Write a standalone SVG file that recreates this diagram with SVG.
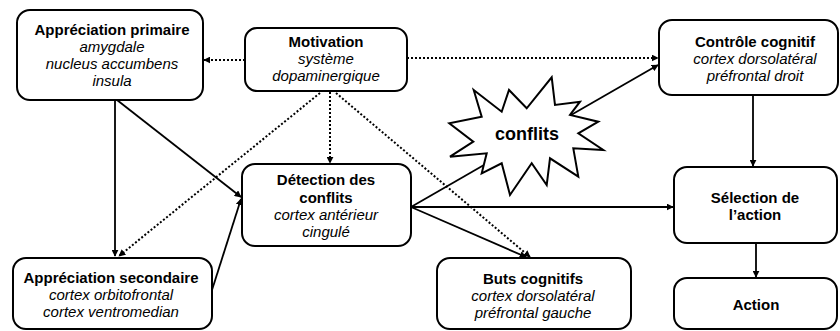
<svg xmlns="http://www.w3.org/2000/svg" width="840" height="331" viewBox="0 0 840 331">
<defs>
<marker id="ah" viewBox="0 0 10 10" refX="9" refY="5" markerWidth="7" markerHeight="7" markerUnits="userSpaceOnUse" orient="auto">
<path d="M0,0 L10,5 L0,10 z" fill="#000"/>
</marker>
<style>
.box{fill:#fff;stroke:#000;stroke-width:2}
.t{font-family:"Liberation Sans",Arial,sans-serif;font-size:15px;text-anchor:middle;fill:#000}
.b{font-weight:bold}
.i{font-style:italic}
.sol{fill:none;stroke:#000;stroke-width:1.8;marker-end:url(#ah)}
.dot{fill:none;stroke:#000;stroke-width:2;stroke-dasharray:2 2;marker-end:url(#ah)}
</style>
</defs>
<rect width="840" height="331" fill="#fff"/>
<g id="connectors">
<line class="dot" x1="245" y1="60" x2="204" y2="60"/>
<line class="dot" x1="407" y1="58" x2="658" y2="58"/>
<line class="dot" x1="330" y1="92" x2="330" y2="163"/>
<line class="dot" x1="320" y1="93" x2="119" y2="256"/>
<line class="dot" x1="336" y1="93" x2="530" y2="257"/>
<line class="sol" x1="115" y1="100" x2="115" y2="256"/>
<line class="sol" x1="117" y1="100" x2="241" y2="197"/>
<line class="sol" x1="212" y1="290" x2="241" y2="199"/>
<line class="sol" x1="411" y1="207" x2="658" y2="65"/>
<line class="sol" x1="411" y1="207" x2="673" y2="207"/>
<line class="sol" x1="411" y1="207" x2="526" y2="257"/>
<line class="sol" x1="753" y1="95" x2="753" y2="166"/>
<line class="sol" x1="756" y1="243" x2="756" y2="277"/>
</g>
<g id="conflits">
<polygon points="473.7,90 501.7,111.7 509,90 526.7,108.3 551.7,77.3 555,105 580,101.7 570,115 598.3,121.7 578.3,133.3 603.3,150 573.3,148.3 578.3,176.7 550,158.3 546.7,185 531.7,163.3 510,195 501.7,163.3 481.7,173.3 486.7,153.3 450,156.7 473.3,141.7 449.3,123.3 481.7,116.7" fill="#fff" stroke="#000" stroke-width="2" stroke-linejoin="miter"/>
<text class="t b" x="527" y="140" style="font-size:18px">conflits</text>
</g>
<g id="appreciation-primaire">
<rect class="box" x="17" y="10" width="186" height="90" rx="13"/>
<text class="t b" x="112" y="35">Appréciation primaire</text>
<text class="t i" x="112" y="52">amygdale</text>
<text class="t i" x="112" y="69">nucleus accumbens</text>
<text class="t i" x="112" y="86">insula</text>
</g>
<g id="motivation">
<rect class="box" x="245" y="28" width="162" height="63" rx="12"/>
<text class="t b" x="326" y="47">Motivation</text>
<text class="t i" x="326" y="64">système</text>
<text class="t i" x="326" y="81">dopaminergique</text>
</g>
<g id="controle-cognitif">
<rect class="box" x="659" y="20" width="179" height="75" rx="13"/>
<text class="t b" x="755" y="47">Contrôle cognitif</text>
<text class="t i" x="755" y="64">cortex dorsolatéral</text>
<text class="t i" x="755" y="81">préfrontal droit</text>
</g>
<g id="detection-conflits">
<rect class="box" x="242" y="164" width="169" height="82" rx="13"/>
<text class="t b" x="326" y="185">Détection des</text>
<text class="t b" x="326" y="203">conflits</text>
<text class="t i" x="326" y="220">cortex antérieur</text>
<text class="t i" x="326" y="237">cingulé</text>
</g>
<g id="selection-action">
<rect class="box" x="674" y="167" width="163" height="76" rx="13"/>
<text class="t b" x="755" y="203">Sélection de</text>
<text class="t b" x="755" y="220">l’action</text>
</g>
<g id="appreciation-secondaire">
<rect class="box" x="13" y="258" width="199" height="71" rx="13"/>
<text class="t b" x="111" y="283">Appréciation secondaire</text>
<text class="t i" x="111" y="300">cortex orbitofrontal</text>
<text class="t i" x="111" y="317">cortex ventromedian</text>
</g>
<g id="buts-cognitifs">
<rect class="box" x="437" y="258" width="194" height="71" rx="13"/>
<text class="t b" x="533" y="284">Buts cognitifs</text>
<text class="t i" x="533" y="301">cortex dorsolatéral</text>
<text class="t i" x="533" y="318">préfrontal gauche</text>
</g>
<g id="action">
<rect class="box" x="674" y="278" width="163" height="51" rx="13"/>
<text class="t b" x="756" y="310">Action</text>
</g>
</svg>
